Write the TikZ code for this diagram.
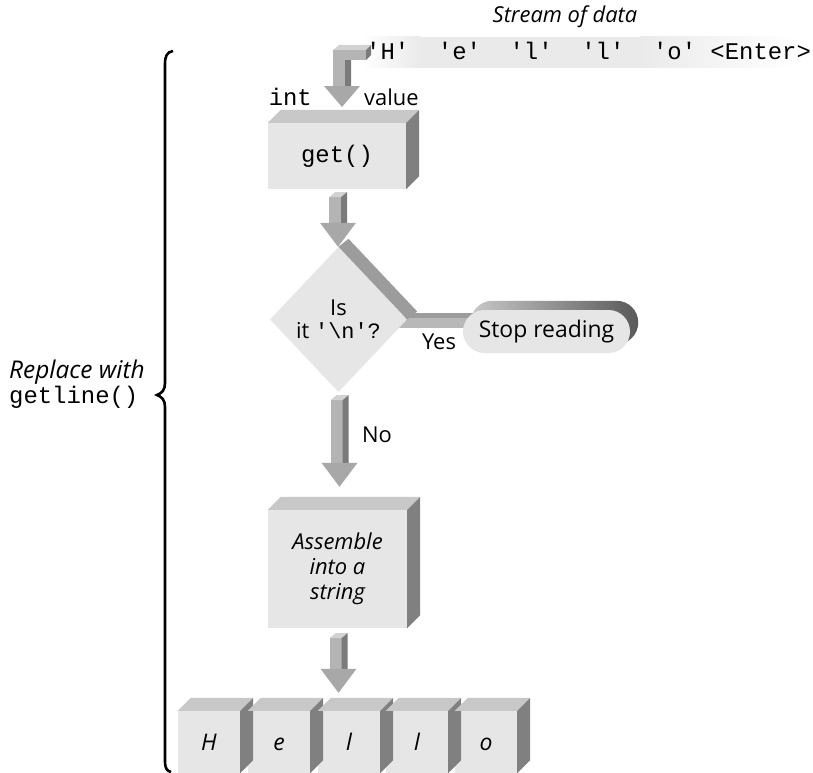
\documentclass[tikz,border=0pt]{standalone}
\usepackage{fontspec}
\setmainfont{Open Sans}
\setmonofont{Liberation Mono}
\usetikzlibrary{shapes.geometric,calc}
\pgfdeclarelayer{bg}
\pgfsetlayers{bg,main}
\definecolor{facec}{HTML}{E6E6E6}
\definecolor{topc}{HTML}{C8C8C8}
\definecolor{sidec}{HTML}{808080}
\definecolor{arrf}{HTML}{B4B4B4}
\definecolor{arrs}{HTML}{7A7A7A}
\definecolor{arrt}{HTML}{D2D2D2}
\definecolor{headc}{HTML}{A8A8A8}
\definecolor{bandc}{HTML}{9C9C9C}
\definecolor{barf}{HTML}{B8B8B8}
\definecolor{streamc}{HTML}{EAEAEA}
\newcommand\cubefaces[2]{%
  \fill[topc] (#1.north west) -- ++(#2,-#2) -- ([shift={(#2,-#2)}]#1.north east) -- (#1.north east) -- cycle;
  \fill[sidec] (#1.north east) -- ++(#2,-#2) -- ([shift={(#2,-#2)}]#1.south east) -- (#1.south east) -- cycle;}
\newcommand\blockarrow[4]{% source, target, top gap, bottom gap
  \path let \p1=(#1.south), \p2=(#2.north) in
    coordinate (#1-a) at (\x1-8bp,\y1-#3)
    coordinate (#1-b) at (\x1-8bp,\y2+#4+24bp)
    coordinate (#1-c) at (\x1+1bp,\y2+#4);
  \fill[arrf] (#1-a) rectangle ($(#1-b)+(12,0)$);
  \fill[arrt] (#1-a) -- ++(6,-5) -- ++(12,0) -- ++(-6,5) -- cycle;
  \fill[arrs] ($(#1-a)+(12,0)$) -- ++(6,-5) -- ($(#1-b)+(18,0)$) -- ($(#1-b)+(12,0)$) -- cycle;
  \fill[headc] ($(#1-b)+(-9,0)$) -- ($(#1-b)+(27,0)$) -- (#1-c) -- cycle;}
\begin{document}
\begin{tikzpicture}[x=1bp,y=-1bp,
  lbl/.style={inner sep=0pt, font=\fontsize{22}{24}\selectfont},
  itl/.style={inner sep=0pt, font=\fontsize{22}{24}\selectfont\itshape},
  mono/.style={inner sep=0pt, font=\fontsize{24}{26}\selectfont\ttfamily},
  box/.style={rectangle, fill=facec, inner sep=0pt, align=center},
  cube/.style={box, minimum width=62bp, minimum height=62bp, text height=16bp, text depth=0pt,
    font=\fontsize{23}{24}\selectfont\itshape}]
\useasboundingbox (0,0) rectangle (813,773);
\begin{pgfonlayer}{bg}
  \fill[white] (0,0) rectangle (813,773);
  \shade[left color=white, right color=streamc] (362,37) rectangle (420,68);
  \fill[streamc] (420,37) rectangle (640,68);
  \shade[left color=streamc, right color=white] (640,37) rectangle (795,68);
\end{pgfonlayer}

% stream of data
\node[itl] (stream) at (565,17) {Stream of data};
\node[mono, anchor=base west] (data) at (366,60)
  {'H'\hspace{1.2em}'e'\hspace{1.2em}'l'\hspace{1.2em}'l'\hspace{1.2em}'o'\hspace{0.6em}<Enter>};

% bent arrow into get()
\fill[arrs] (345,60) -- (351,55) -- (351,86) -- (345,86) -- cycle;
\fill[arrf] (333,60) rectangle (345,86);
\fill[arrt] (333,50) -- (339,45) -- (371,45) -- (366,50) -- cycle;
\fill[arrf] (333,50) rectangle (366,60);
\fill[arrs] (366,50) -- (371,45) -- (371,55) -- (366,60) -- cycle;
\coordinate (bentTip) at (342,107);
\fill[headc] (324,86) -- (360,86) -- (bentTip) -- cycle;
\node[mono, anchor=base east] (intl) at (312,105) {int};
\node[lbl, anchor=base west] (valuel) at (364,105) {value};

% get()
\node[box, minimum width=138bp, minimum height=66bp, font=\fontsize{24}{26}\selectfont\ttfamily] (get) at (337,156) {get()};
\cubefaces{get}{13}

% decision
\node[diamond, fill=facec, minimum width=137bp, minimum height=145bp, inner sep=0pt, align=center,
  font=\fontsize{22}{23}\selectfont] (dec) at (338.5,319.5) {Is\\it \texttt{'\textbackslash n'?}};
\fill[bandc] (dec.north) -- (dec.east) -- ++(10,-8) -- ($(dec.north)+(10,-8)$) -- cycle;
\blockarrow{get}{dec}{8bp}{0bp}

% stop reading
\node[rectangle, rounded corners=21.5bp, fill=facec, minimum width=167bp, minimum height=43bp, inner sep=0pt,
  font=\fontsize{23}{24}\selectfont] (stop) at (546.5,331.5) {Stop reading};
\begin{pgfonlayer}{bg}
  \shade[left color=topc, right color=sidec!70!black, rounded corners=21.5bp]
    ($(stop.south west)+(8,-9)$) rectangle ($(stop.north east)+(8,-9)$);
  \fill[bandc] ($(dec.east)+(-2,-6.5)$) rectangle ($(stop.west)+(14,-13.5)$);
  \fill[barf] ($(dec.east)+(-10,-1.5)$) rectangle ($(stop.west)+(14,-3.5)$);
\end{pgfonlayer}
\node[lbl] (yes) at (439,342) {Yes};

% assemble
\node[box, minimum width=139bp, minimum height=118bp, font=\fontsize{22}{25}\selectfont\itshape] (asm) at (337.5,569) {Assemble\\into a\\string};
\cubefaces{asm}{13}
\blockarrow{dec}{asm}{8bp}{23bp}
\node[lbl] (no) at (377,435) {No};

% letters
\node[cube] (h) at (209,742) {H};
\node[cube] (e) at (279,742) {e};
\node[cube] (l1) at (349,742) {l};
\node[cube] (l2) at (417,742) {l};
\node[cube] (o) at (486,742) {o};
\foreach \c in {h,e,l1,l2,o} {\cubefaces{\c}{13}}
\blockarrow{asm}{l1}{10bp}{18bp}

% brace
\draw[line width=2.6bp] (173,51) .. controls (167,52) and (165,56) .. (165,64)
  -- (165,383) .. controls (165,390) and (162,393) .. (157,395)
  .. controls (162,397) and (165,400) .. (165,407)
  -- (165,762) .. controls (165,768) and (167,771) .. (171,772);
\node[inner sep=0pt, align=left, anchor=west, font=\fontsize{24.5}{25}\selectfont] (repl) at (9,384)
  {{\itshape Replace with}\\{\fontsize{24}{25}\selectfont\ttfamily getline()}};
\end{tikzpicture}
\end{document}
